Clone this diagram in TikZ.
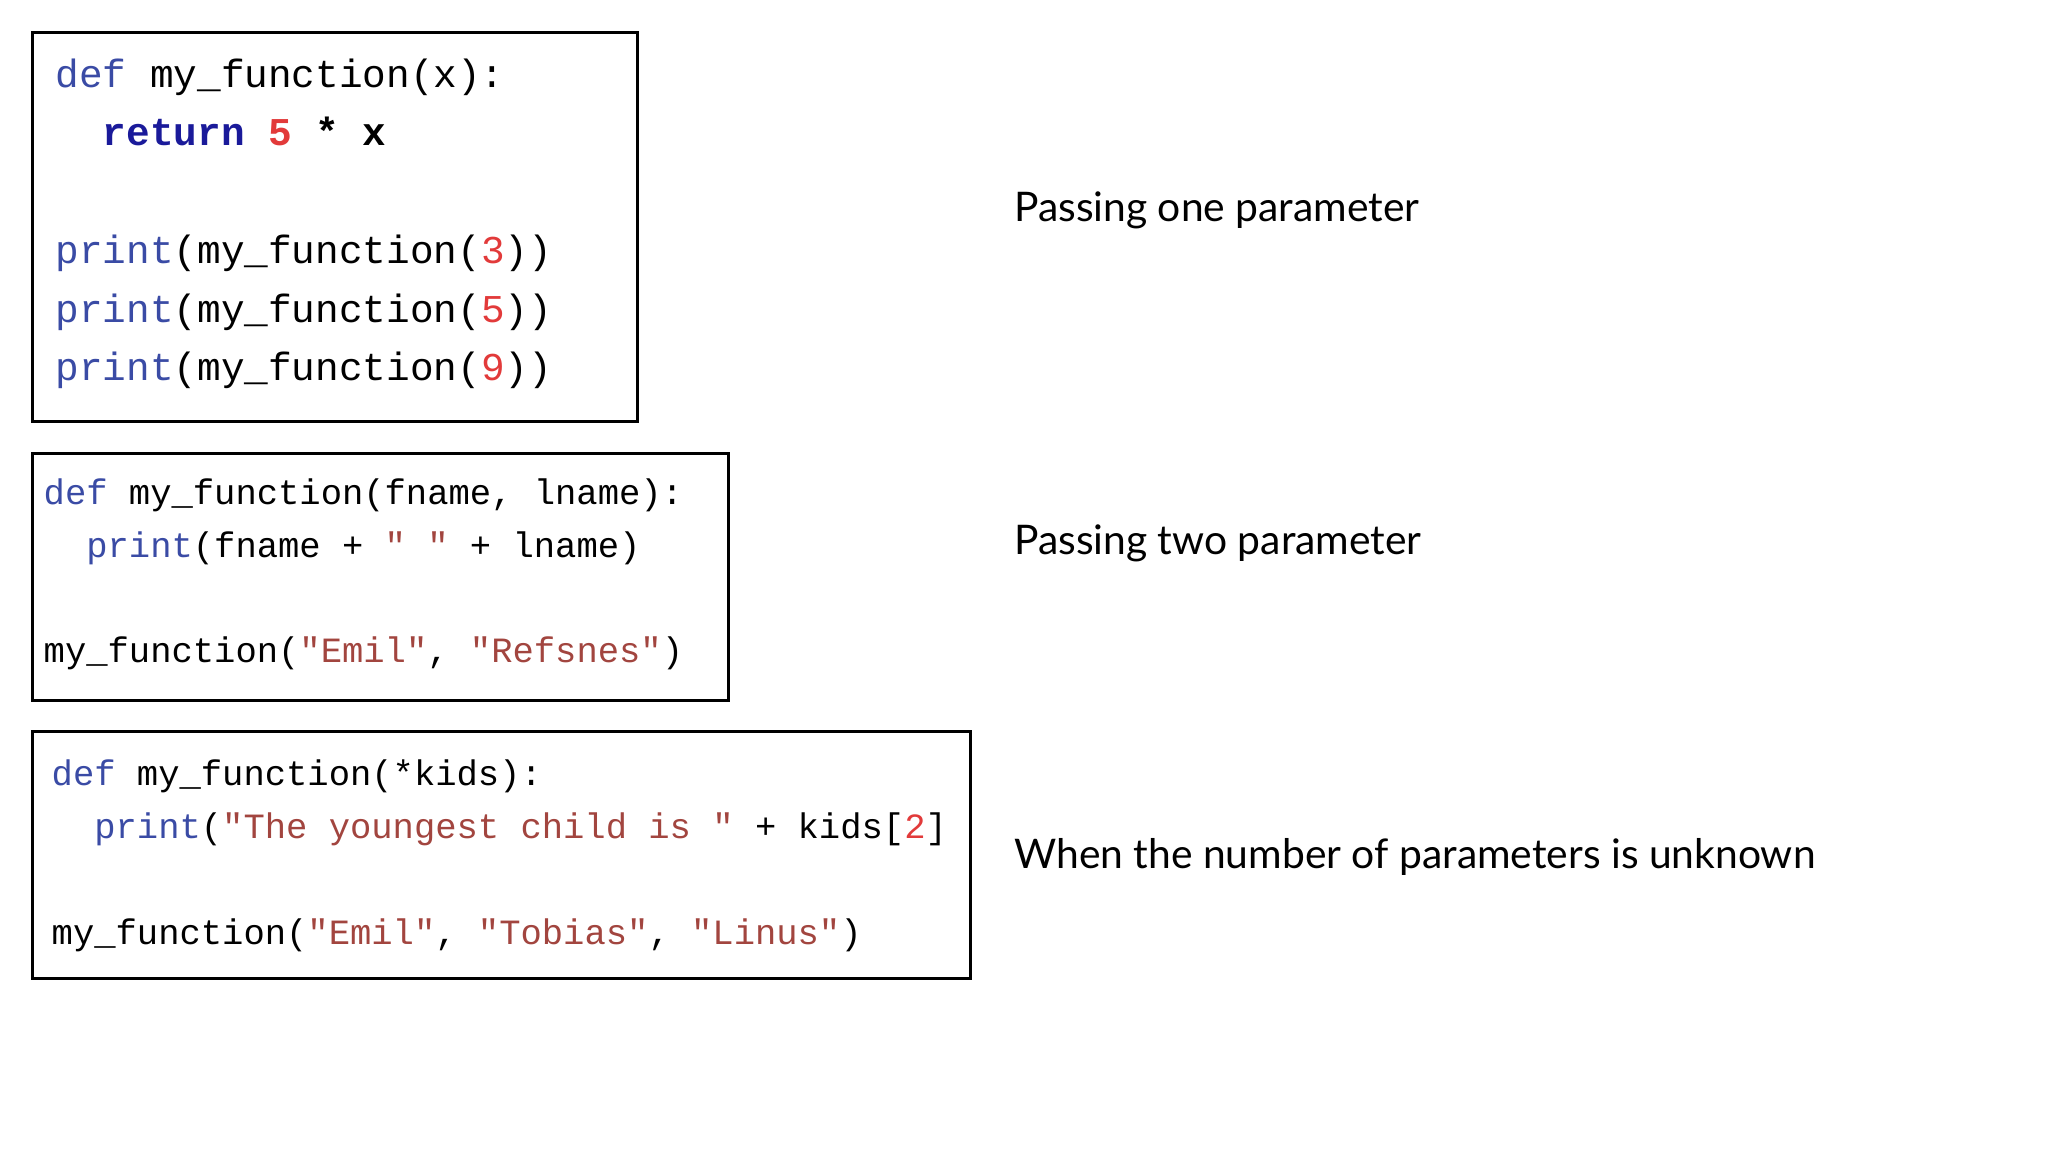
\documentclass[tikz,border=0pt]{standalone}
\usepackage{fontspec}
\setmainfont{Lato}
\newfontfamily\codefont{Liberation Mono}
\definecolor{kwblue}{HTML}{3A4BA5}
\definecolor{retblue}{HTML}{1A1A9A}
\definecolor{numred}{HTML}{E23A3A}
\definecolor{strred}{HTML}{A2453F}
\newcommand{\kw}[1]{\textcolor{kwblue}{#1}}
\newcommand{\nm}[1]{\textcolor{numred}{#1}}
\newcommand{\st}[1]{\textcolor{strred}{#1}}
\begin{document}
\begin{tikzpicture}[x=0.01cm, y=-0.01cm,
    codebox/.style={draw=black, line width=0.8pt},
    code/.style={anchor=north west, inner sep=0pt, align=left},
    caption/.style={anchor=west, inner sep=0pt, font=\fontsize{11.6}{14}\selectfont}]
  \fill[white] (0,0) rectangle (2048,1152);
  % code boxes
  \draw[codebox] (32.7,32.7) rectangle (637.4,421.9);
  \draw[codebox] (32.7,453.2) rectangle (728.8,700.1);
  \draw[codebox] (32.7,731.4) rectangle (970.4,978.3);
  \node[code, font=\codefont\fontsize{11.2}{16.7}\selectfont] (one) at (54.9,58)
    {\kw{def} my\_function(x):\\
     \hspace*{1.2em}\textbf{\textcolor{retblue}{return} \nm{5} * x}\\
     \mbox{}\\
     \kw{print}(my\_function(\nm{3}))\\
     \kw{print}(my\_function(\nm{5}))\\
     \kw{print}(my\_function(\nm{9}))};
  \node[code, font=\codefont\fontsize{10.1}{15}\selectfont] (two) at (43,478)
    {\kw{def} my\_function(fname, lname):\\
     \hspace*{1.2em}\kw{print}(fname + \st{" "} + lname)\\
     \mbox{}\\
     my\_function(\st{"Emil"}, \st{"Refsnes"})};
  \node[code, font=\codefont\fontsize{10.1}{15.1}\selectfont] (three) at (51,759)
    {\kw{def} my\_function(*kids):\\
     \hspace*{1.2em}\kw{print}(\st{"The youngest child is "} + kids[\nm{2}]\\
     \mbox{}\\
     my\_function(\st{"Emil"}, \st{"Tobias"}, \st{"Linus"})};
  % captions
  \node[caption] (capone) at (1013.5,210) {Passing one parameter};
  \node[caption] (captwo) at (1013.5,543) {Passing two parameter};
  \node[caption] (capthree) at (1013.5,857) {When the number of parameters is unknown};
\end{tikzpicture}
\end{document}
